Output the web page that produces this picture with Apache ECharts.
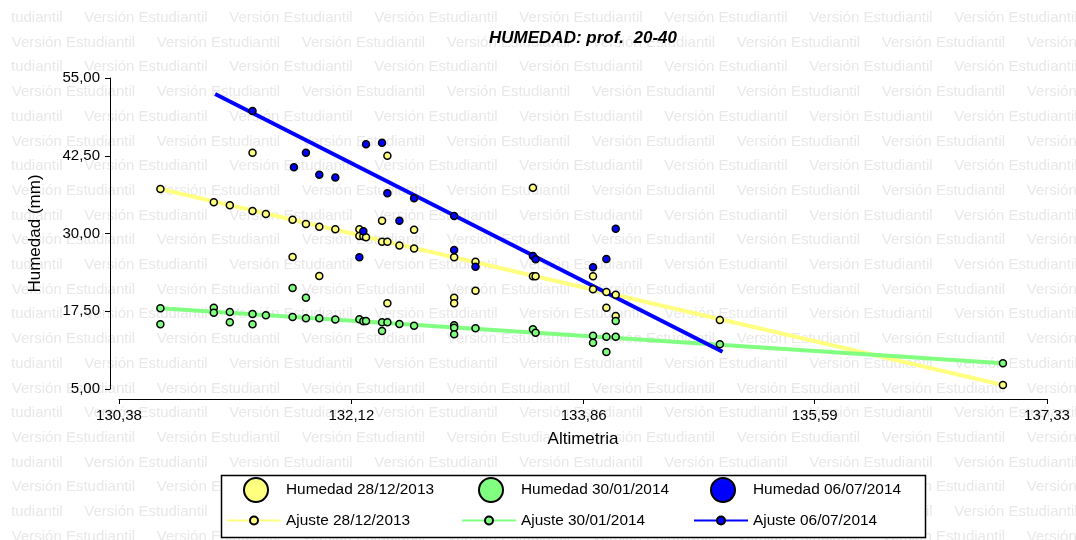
<!DOCTYPE html>
<html><head><meta charset="utf-8">
<script src="https://cdn.jsdelivr.net/npm/echarts@6/dist/echarts.min.js"></script>
<style>html,body{margin:0;padding:0;background:#fff}#c{width:1076px;height:540px}</style>
</head><body><div id="c"></div>
<script>
const titleText = 'HUMEDAD: prof.  20-40';
const xName = 'Altimetria';
const yName = 'Humedad (mm)';
const watermarkText = 'Versión Estudiantil';
const watermarkTail = 'tudiantil';
const xTicks = [130.38, 132.12, 133.86, 135.59, 137.33];
const xTickLabels = ['130,38', '132,12', '133,86', '135,59', '137,33'];
const yTicks = [5, 17.5, 30, 42.5, 55];
const yTickLabels = ['5,00', '17,50', '30,00', '42,50', '55,00'];
const pointNames = ['Humedad 28/12/2013', 'Humedad 30/01/2014', 'Humedad 06/07/2014'];
const fitNames = ['Ajuste 28/12/2013', 'Ajuste 30/01/2014', 'Ajuste 06/07/2014'];

const humedad1 = [
  [130.69,37.15],[131.09,35.02],[131.21,34.53],[131.38,33.62],[131.48,33.14],[131.68,32.22],
  [131.78,31.53],[131.88,31.09],[132.00,30.68],[131.38,42.99],[131.68,26.22],[131.88,23.17],
  [132.39,42.51],[132.35,32.06],[132.18,30.68],[132.18,29.60],[132.21,29.55],[132.23,29.39],
  [132.59,30.61],[132.35,28.68],[132.39,28.68],[132.48,28.07],[132.59,27.59],[132.89,26.17],
  [133.05,25.47],[133.05,20.80],[132.39,18.78],[132.89,19.68],[132.89,18.78],[133.48,37.36],
  [133.48,23.12],[133.50,23.12],[133.93,23.12],[133.93,21.03],[134.03,20.59],[134.10,20.16],
  [134.03,18.07],[134.10,16.74],[134.88,16.09],[137.00,5.64]
];
const humedad2 = [
  [130.69,17.97],[130.69,15.40],[131.09,18.07],[131.09,17.27],[131.21,17.38],[131.21,15.72],
  [131.38,17.06],[131.38,15.40],[131.48,16.85],[131.68,21.24],[131.68,16.58],[131.78,19.68],
  [131.78,16.37],[131.88,16.37],[132.00,16.17],[132.18,16.20],[132.21,15.88],[132.23,15.93],
  [132.35,15.72],[132.39,15.72],[132.35,14.32],[132.48,15.45],[132.59,15.18],[132.89,15.24],
  [132.89,14.86],[132.89,13.79],[133.05,14.76],[133.48,14.60],[133.50,14.05],[133.93,13.57],
  [133.93,12.44],[134.03,13.41],[134.03,10.95],[134.10,13.41],[134.10,15.93],[134.88,12.19],
  [137.00,9.13]
];
const humedad3 = [
  [131.38,49.69],[131.78,42.99],[131.69,40.64],[131.88,39.45],[132.00,39.00],[132.23,44.34],
  [132.35,44.60],[132.39,36.46],[132.59,35.66],[132.48,32.06],[132.89,32.81],[132.21,30.35],
  [132.18,26.17],[132.89,27.35],[133.05,24.66],[133.48,26.38],[133.50,25.85],[134.10,30.77],
  [134.03,25.90],[133.93,24.57]
];
const ajuste1 = [[130.69,37.15],[137.00,5.64]];
const ajuste2 = [[130.69,17.97],[137.00,9.13]];
const ajuste3 = [[131.10,52.43],[134.90,11.00]];

const colors = ['#ffff80', '#80ff80', '#0000ff'];
const FONT = '"Liberation Sans", Arial, sans-serif';

const measureCtx = document.createElement('canvas').getContext('2d');
function textWidth(text, font) { measureCtx.font = font; return measureCtx.measureText(text).width; }

function labelFor(ticks, labels) {
  return function (v) {
    for (let i = 0; i < ticks.length; i++) if (Math.abs(ticks[i] - v) < 1e-6) return labels[i];
    return '';
  };
}

// watermark
const wmFont = '15px ' + FONT;
const wmW = textWidth(watermarkText, wmFont);
const graphics = [];
for (let i = 0; i < 22; i++) {
  const y = 17.9 + 24.7 * i;
  const start = (i % 2 === 0) ? -60.7 : 11.7;
  for (let x = start; x < 1076; x += 145) {
    graphics.push({type: 'text', x: x + wmW, y: y, z: -5, silent: true,
      style: {text: x < 0 ? watermarkTail : watermarkText, fill: '#e8e8e8', font: wmFont,
        align: 'right', verticalAlign: 'middle'}});
  }
}
graphics.push({type: 'rect', z: 3, silent: true, shape: {x: 221.5, y: 475.5, width: 704, height: 62},
  style: {fill: '#ffffff', stroke: '#000000', lineWidth: 1.5}});

const pointData = [humedad1, humedad2, humedad3];
const fitData = [ajuste1, ajuste2, ajuste3];
const series = [];
fitData.forEach((d, i) => series.push({
  type: 'line', name: fitNames[i], data: d, symbol: 'circle', showSymbol: false, z: 2,
  lineStyle: {color: colors[i], width: 4}, itemStyle: {color: colors[i], borderColor: '#000', borderWidth: 1.5},
  silent: true
}));
pointData.forEach((d, i) => series.push({
  type: 'scatter', name: pointNames[i], data: d, symbol: 'circle', symbolSize: 7, z: 3,
  itemStyle: {color: colors[i], borderColor: '#000', borderWidth: 1.5, opacity: 1}
}));

const circleCenters = [255, 490, 722];
const lineLefts = [226, 461, 693];
const legends = [];
pointNames.forEach((n, i) => legends.push({
  data: [n], left: circleCenters[i] - 12, top: 477, orient: 'horizontal', padding: 0, itemGap: 0,
  itemWidth: 50, itemHeight: 24, selectedMode: false, z: 5,
  textStyle: {fontSize: 15.4, fontFamily: FONT, color: '#000'}
}));
fitNames.forEach((n, i) => legends.push({
  data: [n], left: lineLefts[i], top: 513, orient: 'horizontal', padding: 0, itemGap: 0,
  itemWidth: 54, itemHeight: 10, selectedMode: false, z: 5,
  textStyle: {fontSize: 15.4, fontFamily: FONT, color: '#000'}
}));

const titleFont = 'italic bold 17px ' + FONT;
const titleW = textWidth(titleText, titleFont);

const chart = echarts.init(document.getElementById('c'), null, {renderer: 'canvas'});
chart.setOption({
  animation: false,
  backgroundColor: '#ffffff',
  title: {text: titleText, left: 583 - titleW / 2, top: 30, padding: 0,
    textStyle: {fontSize: 17, fontWeight: 'bold', fontStyle: 'italic', fontFamily: FONT, color: '#000'}},
  grid: {left: 119, right: 29, top: 78, bottom: 151, containLabel: false},
  xAxis: {
    type: 'value', min: 130.38, max: 137.33, offset: 10,
    name: xName, nameLocation: 'middle', nameGap: 32,
    nameTextStyle: {fontSize: 17, fontFamily: FONT, color: '#000'},
    axisLine: {show: true, onZero: false, lineStyle: {color: '#000', width: 1}},
    axisTick: {show: true, length: 5, customValues: xTicks, lineStyle: {color: '#000'}},
    axisLabel: {customValues: xTicks, formatter: labelFor(xTicks, xTickLabels), margin: 9,
      fontSize: 15, fontFamily: FONT, color: '#000', showMinLabel: true, showMaxLabel: true},
    splitLine: {show: false}
  },
  yAxis: {
    type: 'value', min: 5, max: 55, offset: 9,
    name: yName, nameLocation: 'middle', nameGap: 66,
    nameTextStyle: {fontSize: 17, fontFamily: FONT, color: '#000'},
    axisLine: {show: true, onZero: false, lineStyle: {color: '#000', width: 1}},
    axisTick: {show: true, length: 5, customValues: yTicks, lineStyle: {color: '#000'}},
    axisLabel: {customValues: yTicks, formatter: labelFor(yTicks, yTickLabels), margin: 10,
      fontSize: 15, fontFamily: FONT, color: '#000', showMinLabel: true, showMaxLabel: true},
    splitLine: {show: false}
  },
  legend: legends,
  graphic: graphics,
  series: series
});
</script>
</body></html>
